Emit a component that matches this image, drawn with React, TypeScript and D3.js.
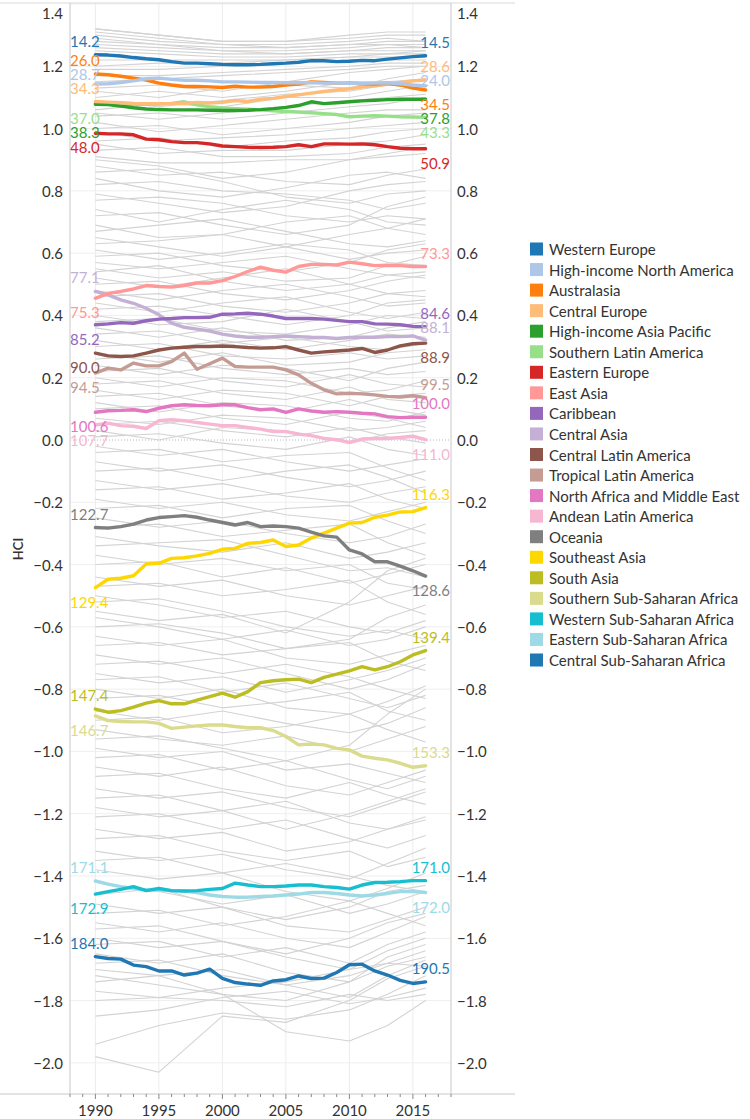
import React, { useEffect } from "react";
import * as d3 from "d3";

const YEARS = [1990, 1991, 1992, 1993, 1994, 1995, 1996, 1997, 1998, 1999, 2000, 2001, 2002, 2003, 2004, 2005, 2006, 2007, 2008, 2009, 2010, 2011, 2012, 2013, 2014, 2015, 2016];

const REGIONS = [
  "Western Europe", "High-income North America", "Australasia", "Central Europe",
  "High-income Asia Pacific", "Southern Latin America", "Eastern Europe", "East Asia",
  "Caribbean", "Central Asia", "Central Latin America", "Tropical Latin America",
  "North Africa and Middle East", "Andean Latin America", "Oceania", "Southeast Asia",
  "South Asia", "Southern Sub-Saharan Africa", "Western Sub-Saharan Africa",
  "Eastern Sub-Saharan Africa", "Central Sub-Saharan Africa",
];

const COLORS = [
  "#1f77b4", "#aec7e8", "#ff7f0e", "#ffbb78", "#2ca02c", "#98df8a", "#d62728", "#ff9896",
  "#9467bd", "#c5b0d5", "#8c564b", "#c49c94", "#e377c2", "#f7b6d2", "#7f7f7f", "#ffd700",
  "#bcbd22", "#dbdb8d", "#17becf", "#9edae5", "#1f77b4",
];

const START_LABELS = ["14.2", "28.7", "26.0", "34.3", "38.3", "37.0", "48.0", "75.3", "85.2", "77.1", "90.0", "94.5", "100.6", "107.7", "122.7", "129.4", "147.4", "146.7", "172.9", "171.1", "184.0"];
const END_LABELS = ["14.5", "24.0", "34.5", "28.6", "37.8", "43.3", "50.9", "73.3", "84.6", "88.1", "88.9", "99.5", "100.0", "111.0", "128.6", "116.3", "139.4", "153.3", "171.0", "172.0", "190.5"];

// label side (style) for the start and end labels
const START_SIDE = ["above", "above", "above", "above", "below", "below", "below", "below", "below", "above", "below", "below", "below", "below", "above", "below", "above", "below", "below", "above", "above"];
const END_SIDE = ["above", "above", "below", "above", "below", "below", "below", "above", "above", "above", "below", "above", "above", "below", "below", "above", "above", "above", "above", "below", "above"];

const WESTERN_EUROPE = [1.237, 1.236, 1.233, 1.228, 1.224, 1.221, 1.215, 1.210, 1.210, 1.208, 1.206, 1.205, 1.205, 1.206, 1.208, 1.210, 1.213, 1.218, 1.218, 1.215, 1.216, 1.219, 1.218, 1.223, 1.227, 1.231, 1.234];
const HIGH_INCOME_NA = [1.143, 1.144, 1.148, 1.153, 1.160, 1.162, 1.158, 1.155, 1.155, 1.153, 1.150, 1.150, 1.149, 1.148, 1.148, 1.147, 1.147, 1.147, 1.146, 1.146, 1.145, 1.145, 1.146, 1.147, 1.144, 1.140, 1.137];
const AUSTRALASIA = [1.175, 1.173, 1.168, 1.162, 1.156, 1.146, 1.140, 1.135, 1.135, 1.134, 1.132, 1.136, 1.133, 1.133, 1.135, 1.140, 1.143, 1.150, 1.148, 1.146, 1.146, 1.144, 1.143, 1.145, 1.140, 1.130, 1.124];
const CENTRAL_EUROPE = [1.087, 1.085, 1.083, 1.081, 1.080, 1.080, 1.080, 1.081, 1.084, 1.082, 1.084, 1.090, 1.087, 1.094, 1.097, 1.103, 1.108, 1.114, 1.119, 1.124, 1.128, 1.133, 1.137, 1.142, 1.148, 1.153, 1.156];
const HIGH_INCOME_AP = [1.078, 1.077, 1.072, 1.067, 1.063, 1.061, 1.060, 1.060, 1.060, 1.059, 1.058, 1.058, 1.059, 1.061, 1.064, 1.068, 1.074, 1.086, 1.080, 1.083, 1.086, 1.089, 1.091, 1.093, 1.094, 1.094, 1.094];
const SOUTHERN_LA = [1.080, 1.079, 1.078, 1.078, 1.078, 1.079, 1.081, 1.086, 1.076, 1.070, 1.066, 1.064, 1.062, 1.060, 1.057, 1.055, 1.053, 1.051, 1.048, 1.045, 1.038, 1.040, 1.041, 1.040, 1.038, 1.037, 1.036];
const EASTERN_EUROPE = [0.985, 0.983, 0.983, 0.980, 0.966, 0.964, 0.958, 0.955, 0.955, 0.951, 0.944, 0.942, 0.940, 0.939, 0.940, 0.942, 0.948, 0.942, 0.951, 0.951, 0.950, 0.951, 0.948, 0.942, 0.937, 0.935, 0.935];
const EAST_ASIA = [0.455, 0.471, 0.477, 0.485, 0.496, 0.493, 0.491, 0.496, 0.504, 0.504, 0.512, 0.525, 0.541, 0.555, 0.545, 0.539, 0.557, 0.564, 0.564, 0.562, 0.571, 0.566, 0.560, 0.561, 0.560, 0.557, 0.557];
const CARIBBEAN = [0.370, 0.373, 0.377, 0.375, 0.383, 0.388, 0.390, 0.393, 0.393, 0.394, 0.404, 0.405, 0.407, 0.404, 0.398, 0.390, 0.390, 0.390, 0.388, 0.384, 0.380, 0.380, 0.373, 0.372, 0.370, 0.365, 0.364];
const CENTRAL_ASIA = [0.477, 0.466, 0.450, 0.439, 0.423, 0.402, 0.375, 0.362, 0.356, 0.350, 0.340, 0.334, 0.330, 0.330, 0.332, 0.334, 0.332, 0.330, 0.329, 0.326, 0.329, 0.330, 0.330, 0.332, 0.332, 0.334, 0.321];
const CENTRAL_LA = [0.279, 0.270, 0.268, 0.270, 0.279, 0.289, 0.295, 0.298, 0.300, 0.300, 0.302, 0.300, 0.297, 0.295, 0.296, 0.300, 0.289, 0.279, 0.283, 0.286, 0.289, 0.294, 0.281, 0.289, 0.302, 0.309, 0.311];
const TROPICAL_LA = [0.215, 0.231, 0.225, 0.247, 0.238, 0.238, 0.252, 0.279, 0.227, 0.245, 0.263, 0.236, 0.234, 0.234, 0.234, 0.225, 0.209, 0.182, 0.161, 0.148, 0.150, 0.148, 0.145, 0.140, 0.138, 0.142, 0.136];
const NORTH_AFRICA_ME = [0.089, 0.094, 0.095, 0.097, 0.091, 0.102, 0.110, 0.113, 0.111, 0.110, 0.113, 0.113, 0.104, 0.097, 0.100, 0.089, 0.100, 0.093, 0.089, 0.091, 0.089, 0.086, 0.084, 0.075, 0.072, 0.073, 0.073];
const ANDEAN_LA = [0.048, 0.054, 0.046, 0.044, 0.037, 0.062, 0.065, 0.062, 0.056, 0.051, 0.046, 0.046, 0.040, 0.035, 0.027, 0.027, 0.019, 0.014, 0.005, 0.001, -0.008, 0.003, 0.005, 0.005, 0.008, 0.012, 0.001];
const OCEANIA = [-0.281, -0.283, -0.278, -0.270, -0.257, -0.249, -0.246, -0.243, -0.248, -0.257, -0.265, -0.273, -0.265, -0.278, -0.276, -0.278, -0.283, -0.296, -0.308, -0.312, -0.353, -0.366, -0.391, -0.391, -0.405, -0.420, -0.437];
const SOUTHEAST_ASIA = [-0.474, -0.447, -0.444, -0.436, -0.398, -0.396, -0.380, -0.378, -0.372, -0.364, -0.351, -0.348, -0.332, -0.329, -0.321, -0.342, -0.337, -0.315, -0.299, -0.283, -0.267, -0.265, -0.248, -0.241, -0.231, -0.230, -0.217];
const SOUTH_ASIA = [-0.864, -0.874, -0.869, -0.858, -0.845, -0.837, -0.847, -0.847, -0.835, -0.824, -0.813, -0.826, -0.808, -0.779, -0.773, -0.770, -0.768, -0.779, -0.762, -0.752, -0.741, -0.728, -0.738, -0.728, -0.712, -0.690, -0.676];
const SOUTHERN_SSA = [-0.886, -0.901, -0.904, -0.905, -0.905, -0.910, -0.926, -0.922, -0.918, -0.915, -0.915, -0.920, -0.924, -0.924, -0.933, -0.952, -0.979, -0.976, -0.979, -0.990, -0.995, -1.015, -1.022, -1.027, -1.038, -1.051, -1.046];
const WESTERN_SSA = [-1.458, -1.450, -1.443, -1.434, -1.447, -1.440, -1.447, -1.448, -1.447, -1.443, -1.440, -1.423, -1.429, -1.434, -1.434, -1.432, -1.429, -1.429, -1.434, -1.437, -1.442, -1.429, -1.421, -1.420, -1.418, -1.415, -1.415];
const EASTERN_SSA = [-1.416, -1.426, -1.434, -1.440, -1.445, -1.445, -1.447, -1.448, -1.453, -1.461, -1.466, -1.468, -1.468, -1.466, -1.464, -1.461, -1.458, -1.453, -1.453, -1.456, -1.461, -1.464, -1.461, -1.456, -1.450, -1.450, -1.453];
const CENTRAL_SSA = [-1.659, -1.665, -1.667, -1.686, -1.691, -1.705, -1.705, -1.718, -1.712, -1.699, -1.729, -1.742, -1.747, -1.751, -1.737, -1.733, -1.721, -1.729, -1.728, -1.710, -1.685, -1.683, -1.705, -1.718, -1.735, -1.745, -1.740];

const SERIES = [
  WESTERN_EUROPE, HIGH_INCOME_NA, AUSTRALASIA, CENTRAL_EUROPE, HIGH_INCOME_AP, SOUTHERN_LA,
  EASTERN_EUROPE, EAST_ASIA, CARIBBEAN, CENTRAL_ASIA, CENTRAL_LA, TROPICAL_LA, NORTH_AFRICA_ME,
  ANDEAN_LA, OCEANIA, SOUTHEAST_ASIA, SOUTH_ASIA, SOUTHERN_SSA, WESTERN_SSA, EASTERN_SSA, CENTRAL_SSA,
];

// Background country lines (sampled at these years)
const GRAY_YEARS = [1990, 1995, 2000, 2005, 2010, 2013, 2016];
const GRAY_COUNTRIES = [
  [1.32, 1.30, 1.28, 1.28, 1.30, 1.31, 1.31],
  [1.32, 1.30, 1.28, 1.28, 1.29, 1.30, 1.30],
  [1.31, 1.29, 1.27, 1.27, 1.28, 1.29, 1.28],
  [1.30, 1.28, 1.27, 1.26, 1.27, 1.28, 1.28],
  [1.29, 1.27, 1.26, 1.26, 1.27, 1.27, 1.27],
  [1.28, 1.27, 1.25, 1.25, 1.26, 1.27, 1.26],
  [1.27, 1.26, 1.25, 1.24, 1.25, 1.26, 1.26],
  [1.26, 1.25, 1.24, 1.24, 1.25, 1.25, 1.25],
  [1.25, 1.24, 1.23, 1.23, 1.24, 1.24, 1.25],
  [1.22, 1.22, 1.22, 1.22, 1.23, 1.24, 1.24],
  [1.20, 1.21, 1.21, 1.22, 1.23, 1.23, 1.23],
  [1.19, 1.19, 1.20, 1.21, 1.22, 1.22, 1.22],
  [1.17, 1.17, 1.18, 1.19, 1.20, 1.21, 1.21],
  [1.15, 1.16, 1.17, 1.18, 1.19, 1.20, 1.20],
  [1.13, 1.14, 1.12, 1.15, 1.18, 1.19, 1.20],
  [1.12, 1.10, 1.13, 1.14, 1.13, 1.16, 1.18],
  [1.10, 1.12, 1.10, 1.12, 1.15, 1.15, 1.16],
  [1.09, 1.07, 1.09, 1.11, 1.12, 1.14, 1.13],
  [1.06, 1.08, 1.07, 1.10, 1.10, 1.12, 1.14],
  [1.05, 1.03, 1.05, 1.07, 1.09, 1.10, 1.11],
  [1.04, 1.05, 1.03, 1.05, 1.07, 1.08, 1.10],
  [1.02, 0.99, 1.01, 1.03, 1.05, 1.06, 1.06],
  [1.00, 1.01, 0.98, 1.00, 1.02, 1.04, 1.05],
  [0.99, 0.96, 0.97, 0.98, 1.00, 1.01, 1.02],
  [0.96, 0.97, 0.94, 0.96, 0.97, 0.99, 1.00],
  [0.95, 0.92, 0.93, 0.93, 0.95, 0.96, 0.98],
  [0.93, 0.94, 0.91, 0.91, 0.92, 0.94, 0.95],
  [0.91, 0.89, 0.89, 0.90, 0.90, 0.91, 0.92],
  [0.90, 0.88, 0.84, 0.86, 0.90, 0.92, 0.94],
  [0.88, 0.85, 0.86, 0.83, 0.82, 0.85, 0.87],
  [0.86, 0.87, 0.83, 0.78, 0.76, 0.79, 0.80],
  [0.84, 0.80, 0.78, 0.81, 0.85, 0.86, 0.84],
  [0.82, 0.83, 0.80, 0.79, 0.77, 0.74, 0.76],
  [0.79, 0.76, 0.73, 0.75, 0.80, 0.82, 0.83],
  [0.77, 0.78, 0.76, 0.72, 0.70, 0.72, 0.71],
  [0.74, 0.70, 0.74, 0.77, 0.74, 0.70, 0.69],
  [0.72, 0.73, 0.69, 0.66, 0.69, 0.75, 0.78],
  [0.69, 0.65, 0.66, 0.70, 0.72, 0.68, 0.66],
  [0.67, 0.69, 0.71, 0.67, 0.63, 0.62, 0.64],
  [0.65, 0.62, 0.59, 0.62, 0.66, 0.68, 0.71],
  [0.63, 0.64, 0.66, 0.62, 0.58, 0.60, 0.61],
  [0.61, 0.58, 0.60, 0.63, 0.61, 0.57, 0.56],
  [0.59, 0.60, 0.56, 0.54, 0.57, 0.61, 0.63],
  [0.57, 0.55, 0.57, 0.59, 0.55, 0.53, 0.52],
  [0.55, 0.52, 0.54, 0.51, 0.52, 0.56, 0.59],
  [0.54, 0.56, 0.51, 0.48, 0.50, 0.53, 0.54],
  [0.52, 0.49, 0.52, 0.55, 0.50, 0.47, 0.48],
  [0.50, 0.51, 0.47, 0.45, 0.48, 0.51, 0.53],
  [0.48, 0.45, 0.48, 0.50, 0.46, 0.43, 0.44],
  [0.46, 0.47, 0.43, 0.41, 0.44, 0.47, 0.46],
  [0.44, 0.41, 0.44, 0.46, 0.41, 0.39, 0.41],
  [0.42, 0.43, 0.40, 0.37, 0.40, 0.44, 0.45],
  [0.40, 0.37, 0.38, 0.42, 0.38, 0.35, 0.36],
  [0.38, 0.39, 0.35, 0.34, 0.37, 0.40, 0.39],
  [0.36, 0.33, 0.36, 0.32, 0.33, 0.36, 0.38],
  [0.34, 0.35, 0.31, 0.33, 0.30, 0.29, 0.31],
  [0.32, 0.29, 0.32, 0.29, 0.32, 0.34, 0.33],
  [0.30, 0.31, 0.27, 0.26, 0.28, 0.26, 0.27],
  [0.28, 0.25, 0.28, 0.24, 0.25, 0.28, 0.29],
  [0.26, 0.27, 0.23, 0.21, 0.23, 0.21, 0.22],
  [0.24, 0.21, 0.24, 0.23, 0.19, 0.23, 0.25],
  [0.22, 0.23, 0.19, 0.17, 0.21, 0.18, 0.17],
  [0.20, 0.17, 0.20, 0.19, 0.15, 0.16, 0.19],
  [0.18, 0.19, 0.15, 0.13, 0.17, 0.13, 0.12],
  [0.16, 0.13, 0.16, 0.15, 0.11, 0.14, 0.15],
  [0.14, 0.15, 0.11, 0.09, 0.13, 0.10, 0.08],
  [0.12, 0.09, 0.12, 0.11, 0.07, 0.06, 0.09],
  [0.10, 0.11, 0.07, 0.05, 0.09, 0.07, 0.04],
  [0.07, 0.05, 0.08, 0.07, 0.03, 0.04, 0.06],
  [0.05, 0.06, 0.03, 0.01, 0.04, 0.01, -0.01],
  [0.03, 0.00, 0.04, 0.03, -0.01, 0.02, 0.03],
  [0.01, 0.02, -0.01, -0.03, 0.01, -0.03, -0.05],
  [-0.02, -0.05, -0.03, -0.07, -0.10, -0.08, -0.06],
  [-0.04, -0.03, -0.07, -0.05, -0.04, -0.09, -0.13],
  [-0.07, -0.10, -0.08, -0.12, -0.15, -0.13, -0.10],
  [-0.10, -0.09, -0.13, -0.10, -0.08, -0.12, -0.17],
  [-0.13, -0.16, -0.14, -0.18, -0.20, -0.17, -0.15],
  [-0.16, -0.15, -0.19, -0.17, -0.14, -0.19, -0.22],
  [-0.19, -0.22, -0.20, -0.24, -0.26, -0.23, -0.20],
  [-0.22, -0.21, -0.25, -0.22, -0.21, -0.26, -0.30],
  [-0.25, -0.28, -0.26, -0.30, -0.33, -0.31, -0.27],
  [-0.28, -0.27, -0.31, -0.29, -0.27, -0.33, -0.37],
  [-0.31, -0.34, -0.36, -0.33, -0.38, -0.36, -0.33],
  [-0.34, -0.33, -0.32, -0.37, -0.42, -0.41, -0.44],
  [-0.37, -0.40, -0.38, -0.42, -0.40, -0.46, -0.48],
  [-0.40, -0.39, -0.44, -0.41, -0.46, -0.43, -0.40],
  [-0.44, -0.47, -0.45, -0.50, -0.53, -0.50, -0.47],
  [-0.47, -0.46, -0.50, -0.48, -0.45, -0.52, -0.56],
  [-0.50, -0.53, -0.57, -0.55, -0.60, -0.62, -0.58],
  [-0.52, -0.51, -0.55, -0.60, -0.63, -0.61, -0.64],
  [-0.55, -0.58, -0.56, -0.62, -0.52, -0.42, -0.38],
  [-0.57, -0.60, -0.64, -0.61, -0.66, -0.64, -0.60],
  [-0.60, -0.59, -0.62, -0.67, -0.64, -0.57, -0.53],
  [-0.63, -0.66, -0.64, -0.70, -0.72, -0.69, -0.66],
  [-0.66, -0.65, -0.69, -0.67, -0.65, -0.71, -0.74],
  [-0.69, -0.72, -0.70, -0.75, -0.80, -0.77, -0.72],
  [-0.72, -0.71, -0.75, -0.72, -0.76, -0.80, -0.83],
  [-0.75, -0.78, -0.76, -0.81, -0.77, -0.74, -0.70],
  [-0.77, -0.76, -0.81, -0.78, -0.83, -0.86, -0.82],
  [-0.80, -0.83, -0.80, -0.86, -0.88, -0.84, -0.79],
  [-0.83, -0.82, -0.86, -0.84, -0.81, -0.87, -0.90],
  [-0.87, -0.90, -0.87, -0.91, -0.94, -0.91, -0.86],
  [-0.90, -0.89, -0.94, -0.92, -0.88, -0.93, -0.97],
  [-0.93, -0.96, -0.98, -0.95, -1.00, -0.96, -0.92],
  [-0.96, -0.95, -0.99, -1.03, -0.98, -0.88, -0.80],
  [-0.99, -1.02, -1.00, -1.06, -1.04, -1.07, -1.10],
  [-1.02, -1.01, -1.06, -1.03, -1.09, -1.12, -1.08],
  [-1.05, -1.08, -1.05, -1.11, -1.14, -1.10, -1.06],
  [-1.08, -1.07, -1.12, -1.15, -1.10, -1.14, -1.17],
  [-1.12, -1.15, -1.13, -1.18, -1.21, -1.17, -1.13],
  [-1.15, -1.14, -1.19, -1.16, -1.23, -1.25, -1.21],
  [-1.18, -1.21, -1.19, -1.25, -1.20, -1.16, -1.12],
  [-1.21, -1.20, -1.25, -1.22, -1.28, -1.31, -1.27],
  [-1.25, -1.28, -1.26, -1.32, -1.29, -1.25, -1.22],
  [-1.28, -1.27, -1.32, -1.35, -1.32, -1.37, -1.34],
  [-1.32, -1.35, -1.33, -1.38, -1.41, -1.36, -1.31],
  [-1.35, -1.34, -1.39, -1.36, -1.40, -1.43, -1.45],
  [-1.38, -1.41, -1.39, -1.45, -1.48, -1.44, -1.39],
  [-1.42, -1.45, -1.49, -1.46, -1.52, -1.49, -1.45],
  [-1.46, -1.44, -1.50, -1.54, -1.50, -1.45, -1.43],
  [-1.49, -1.52, -1.50, -1.56, -1.58, -1.54, -1.50],
  [-1.52, -1.51, -1.56, -1.53, -1.48, -1.52, -1.56],
  [-1.55, -1.58, -1.55, -1.60, -1.63, -1.58, -1.53],
  [-1.57, -1.56, -1.61, -1.65, -1.60, -1.55, -1.52],
  [-1.60, -1.63, -1.61, -1.66, -1.70, -1.64, -1.60],
  [-1.62, -1.61, -1.66, -1.63, -1.68, -1.62, -1.58],
  [-1.65, -1.68, -1.65, -1.71, -1.74, -1.66, -1.62],
  [-1.68, -1.67, -1.72, -1.75, -1.72, -1.68, -1.64],
  [-1.72, -1.75, -1.78, -1.80, -1.74, -1.69, -1.66],
  [-1.74, -1.72, -1.70, -1.75, -1.79, -1.72, -1.67],
  [-1.77, -1.79, -1.76, -1.74, -1.70, -1.68, -1.69],
  [-1.80, -1.79, -1.80, -1.82, -1.78, -1.80, -1.78],
  [-1.85, -1.83, -1.79, -1.77, -1.81, -1.79, -1.76],
  [-1.94, -1.88, -1.84, -1.86, -1.83, -1.78, -1.72],
  [-1.98, -2.03, -1.85, -1.87, -1.80, -1.73, -1.69],
  [-1.70, -1.72, -1.78, -1.90, -1.93, -1.88, -1.80],
];

const Y_TICKS = [1.4, 1.2, 1.0, 0.8, 0.6, 0.4, 0.2, 0.0, -0.2, -0.4, -0.6, -0.8, -1.0, -1.2, -1.4, -1.6, -1.8, -2.0];
const X_TICKS = [1990, 1995, 2000, 2005, 2010, 2015];
const X_MINOR = [1988, 1989, 1990, 1991, 1992, 1993, 1994, 1995, 1996, 1997, 1998, 1999, 2000, 2001, 2002, 2003, 2004, 2005, 2006, 2007, 2008, 2009, 2010, 2011, 2012, 2013, 2014, 2015, 2016, 2017, 2018];

const W = 750;
const H = 1119;
const LEFT = 70;
const RIGHT = 451;
const TOP = 4;
const BOTTOM = 1094;
const FONT = "Lato, 'Open Sans', sans-serif";
const LABEL_OFFSET = 14;
const LABEL_GAP = 14;

function placeLabels(items: { idx: number; y: number }[], gap: number) {
  const sorted = [...items].sort((a, b) => a.y - b.y);
  const out: Record<number, number> = {};
  let last = -Infinity;
  for (const it of sorted) {
    const c = Math.max(it.y, last + gap);
    out[it.idx] = c;
    last = c;
  }
  return out;
}

export default function App() {
  useEffect(() => {
    document.body.style.margin = "0";
  }, []);

  const x = d3.scaleLinear().domain([1988, 2018]).range([LEFT, RIGHT]);
  const y = d3.scaleLinear().domain([-2.1, 1.4]).range([BOTTOM, TOP]);

  const line = d3.line<number>().x((_, i) => x(YEARS[i])).y((d) => y(d));
  const grayLine = d3.line<number>().x((_, i) => x(GRAY_YEARS[i])).y((d) => y(d));

  const n = YEARS.length;
  const leftPos = placeLabels(
    SERIES.map((s, i) => ({ idx: i, y: y(s[0]) + (START_SIDE[i] === "above" ? -LABEL_OFFSET : LABEL_OFFSET) })),
    LABEL_GAP
  );
  const rightPos = placeLabels(
    SERIES.map((s, i) => ({ idx: i, y: y(s[n - 1]) + (END_SIDE[i] === "above" ? -LABEL_OFFSET : LABEL_OFFSET) })),
    LABEL_GAP
  );

  const order = SERIES.map((_, i) => i).reverse();
  const legendY = d3.scaleLinear().domain([0, REGIONS.length - 1]).range([249, 660]);

  return (
    <svg width={W} height={H} style={{ display: "block", background: "#fff" }} fontFamily={FONT}>
      {/* gridlines */}
      {Y_TICKS.map((t) => (
        t === 0 ? null : <line key={"gy" + t} x1={LEFT} x2={RIGHT} y1={y(t)} y2={y(t)} stroke="#efefef" strokeWidth={1} />
      ))}
      {X_TICKS.map((t) => (
        <line key={"gx" + t} x1={x(t)} x2={x(t)} y1={TOP - 1} y2={BOTTOM} stroke="#ececec" strokeWidth={1} />
      ))}
      <line x1={LEFT} x2={RIGHT} y1={y(0)} y2={y(0)} stroke="#b8b8b8" strokeWidth={1} strokeDasharray="1,2" />

      {/* background lines */}
      <g fill="none" stroke="#d3d3d3" strokeWidth={1.1} strokeLinejoin="round">
        {GRAY_COUNTRIES.map((g, i) => (
          <path key={"g" + i} d={grayLine(g) || ""} />
        ))}
      </g>

      {/* highlighted regions */}
      <g fill="none" strokeWidth={3.4} strokeLinejoin="round" strokeLinecap="round">
        {order.map((i) => (
          <path key={"s" + i} d={line(SERIES[i]) || ""} stroke={COLORS[i]} />
        ))}
      </g>

      {/* start / end labels */}
      <g fontSize={15}>
        {SERIES.map((s, i) => (
          <text key={"l" + i} x={LEFT} y={leftPos[i]} dominantBaseline="central" fill={COLORS[i]}>
            {START_LABELS[i]}
          </text>
        ))}
        {SERIES.map((s, i) => (
          <text key={"r" + i} x={RIGHT - 1} y={rightPos[i]} dominantBaseline="central" textAnchor="end" fill={COLORS[i]}>
            {END_LABELS[i]}
          </text>
        ))}
      </g>

      {/* frame */}
      <line x1={0} x2={515} y1={3} y2={3} stroke="#d9d9d9" strokeWidth={1} />
      <line x1={0} x2={515} y1={BOTTOM} y2={BOTTOM} stroke="#c8c8c8" strokeWidth={1} />
      <line x1={LEFT} x2={LEFT} y1={3} y2={BOTTOM} stroke="#c8c8c8" strokeWidth={1} />
      <line x1={RIGHT} x2={RIGHT} y1={3} y2={BOTTOM} stroke="#c8c8c8" strokeWidth={1} />

      {/* x axis ticks */}
      {X_MINOR.map((t) => (
        <line key={"xm" + t} x1={x(t)} x2={x(t)} y1={BOTTOM} y2={BOTTOM + (X_TICKS.includes(t) ? 5 : 3)} stroke="#888" strokeWidth={1} />
      ))}
      <g fontSize={15} fill="#333" textAnchor="middle">
        {X_TICKS.map((t) => (
          <text key={"xt" + t} x={x(t)} y={1116}>{t}</text>
        ))}
      </g>

      {/* y axis labels */}
      <g fontSize={15} fill="#333">
        {Y_TICKS.map((t) => (
          <text key={"yl" + t} x={63} y={Math.max(y(t), 13)} textAnchor="end" dominantBaseline="central">{d3.format(".1f")(t)}</text>
        ))}
        {Y_TICKS.map((t) => (
          <text key={"yr" + t} x={457} y={Math.max(y(t), 13)} textAnchor="start" dominantBaseline="central">{d3.format(".1f")(t)}</text>
        ))}
      </g>
      <text x={18} y={(TOP + BOTTOM) / 2} transform={`rotate(-90, 18, ${(TOP + BOTTOM) / 2})`} textAnchor="middle" dominantBaseline="central" fontSize={13} fontWeight={600} fill="#333">HCI</text>

      {/* legend */}
      <g fontSize={15} fill="#333">
        {REGIONS.map((r, i) => (
          <g key={"lg" + i} transform={`translate(530, ${legendY(i)})`}>
            <rect x={0} y={-6.5} width={13} height={13} fill={COLORS[i]} />
            <text x={19} y={0} dominantBaseline="central">{r}</text>
          </g>
        ))}
      </g>
    </svg>
  );
}
